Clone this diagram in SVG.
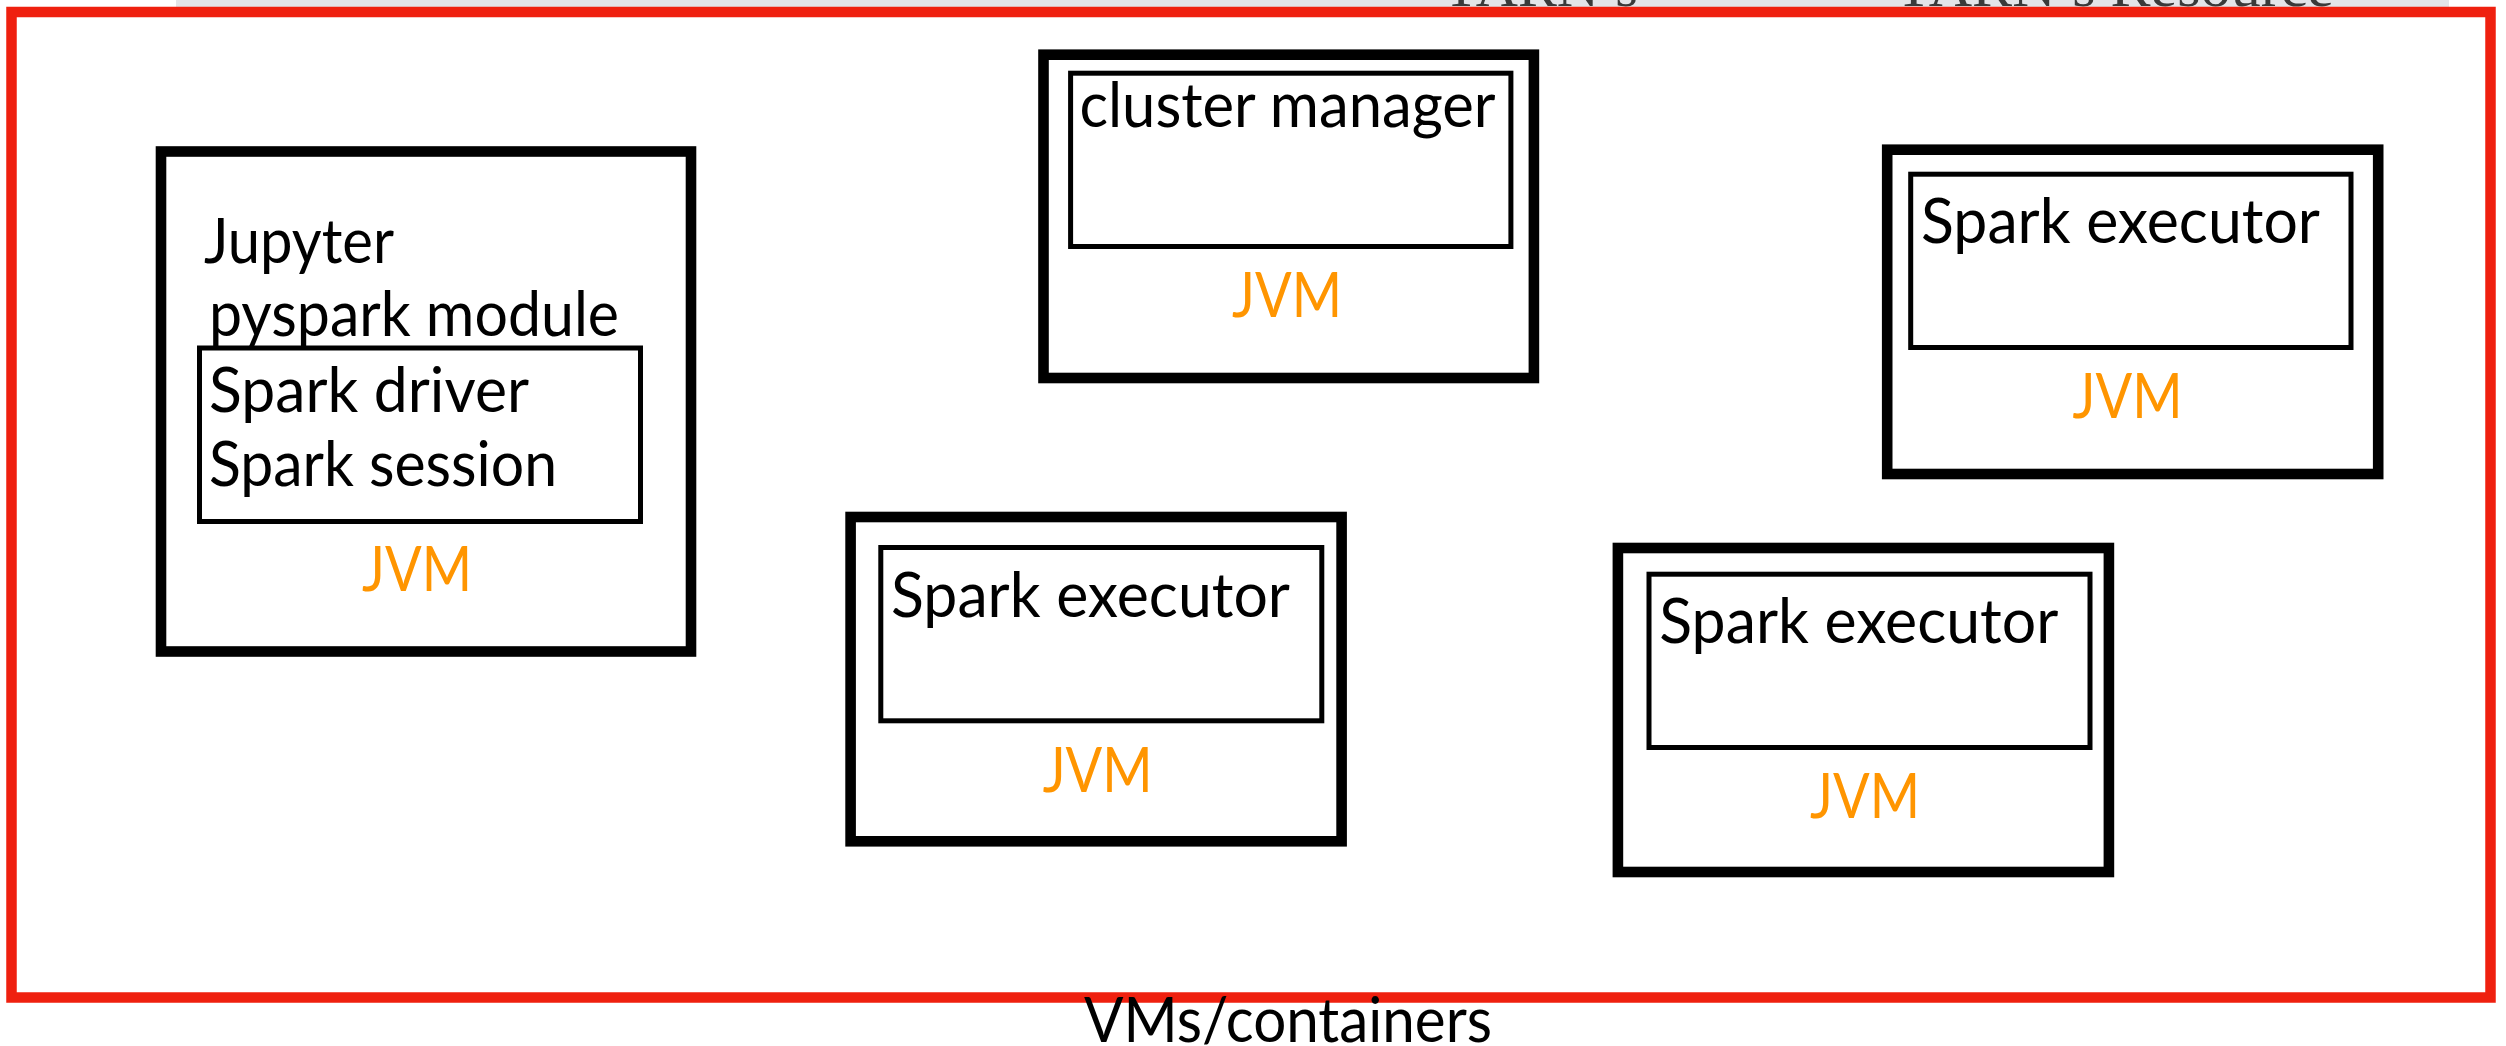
<svg xmlns="http://www.w3.org/2000/svg" width="2506" height="1046" viewBox="0 0 2506 1046">
  <style>
    .outer { fill: #ffffff; stroke: #000000; stroke-width: 10.6; }
    .inner { fill: none; stroke: #000000; stroke-width: 5; }
    .lbl { font-family: Lato, "Open Sans", "Liberation Sans", sans-serif; font-size: 61px; fill: #000000; }
    .jvm { font-family: Lato, "Open Sans", "Liberation Sans", sans-serif; font-size: 61px; fill: #ff9500; }
    .cut { font-family: "Liberation Serif", serif; font-size: 58px; fill: #3a3a3a; }
  </style>
  <defs>
    <clipPath id="stripClip"><rect x="176" y="0" width="2273" height="7"/></clipPath>
  </defs>
  <rect x="0" y="0" width="2506" height="1046" fill="#ffffff"/>

  <g id="top-strip">
    <rect x="176" y="0" width="2273" height="7" fill="#e3e4e8"/>
    <g clip-path="url(#stripClip)">
      <text class="cut" x="1440" y="5.5" textLength="198" lengthAdjust="spacingAndGlyphs">YARN’s</text>
      <text class="cut" x="1892" y="5.5" textLength="442" lengthAdjust="spacingAndGlyphs">YARN’s Resource</text>
    </g>
  </g>

  <g id="vms-containers">
    <rect x="11.5" y="12" width="2479" height="985.5" fill="none" stroke="#ef200f" stroke-width="10.5"/>
    <text class="lbl" x="1084" y="1041.7" textLength="408" lengthAdjust="spacingAndGlyphs">VMs/containers</text>
  </g>

  <g id="driver-jvm">
    <rect class="outer" x="161" y="151.5" width="530" height="500"/>
    <text class="lbl" x="204" y="262.6" textLength="190" lengthAdjust="spacingAndGlyphs">Jupyter</text>
    <text class="lbl" x="209" y="336" textLength="410" lengthAdjust="spacingAndGlyphs">pyspark module</text>
    <rect class="inner" x="199.5" y="348" width="441" height="173.5"/>
    <text class="lbl" x="209" y="411.7" textLength="320" lengthAdjust="spacingAndGlyphs">Spark driver</text>
    <text class="lbl" x="209" y="485.7" textLength="348" lengthAdjust="spacingAndGlyphs">Spark session</text>
    <text class="jvm" x="362" y="591.4" textLength="110" lengthAdjust="spacingAndGlyphs">JVM</text>
  </g>

  <g id="cluster-manager-jvm">
    <rect class="outer" x="1043.5" y="54.7" width="490.4" height="323.3"/>
    <rect class="inner" x="1070.6" y="73.2" width="440.3" height="173.3"/>
    <text class="lbl" x="1079.5" y="127.3" textLength="416" lengthAdjust="spacingAndGlyphs">cluster manager</text>
    <text class="jvm" x="1232" y="316.7" textLength="110" lengthAdjust="spacingAndGlyphs">JVM</text>
  </g>

  <g id="executor-jvm-1">
    <rect class="outer" x="1887.2" y="149.7" width="491" height="324.3"/>
    <rect class="inner" x="1910.7" y="174.2" width="440.3" height="173.3"/>
    <text class="lbl" x="1921" y="243.3" textLength="399" lengthAdjust="spacingAndGlyphs">Spark executor</text>
    <text class="jvm" x="2072.5" y="418.3" textLength="110" lengthAdjust="spacingAndGlyphs">JVM</text>
  </g>

  <g id="executor-jvm-2">
    <rect class="outer" x="850.6" y="517" width="491" height="324.3"/>
    <rect class="inner" x="880.8" y="547.5" width="441" height="173.3"/>
    <text class="lbl" x="891" y="616.7" textLength="399" lengthAdjust="spacingAndGlyphs">Spark executor</text>
    <text class="jvm" x="1042.7" y="791.7" textLength="110" lengthAdjust="spacingAndGlyphs">JVM</text>
  </g>

  <g id="executor-jvm-3">
    <rect class="outer" x="1617.9" y="548" width="491" height="324"/>
    <rect class="inner" x="1649" y="574.2" width="441" height="173.3"/>
    <text class="lbl" x="1659.3" y="643.3" textLength="399" lengthAdjust="spacingAndGlyphs">Spark executor</text>
    <text class="jvm" x="1810" y="818.3" textLength="110" lengthAdjust="spacingAndGlyphs">JVM</text>
  </g>

  <g id="connectors"/>
</svg>
